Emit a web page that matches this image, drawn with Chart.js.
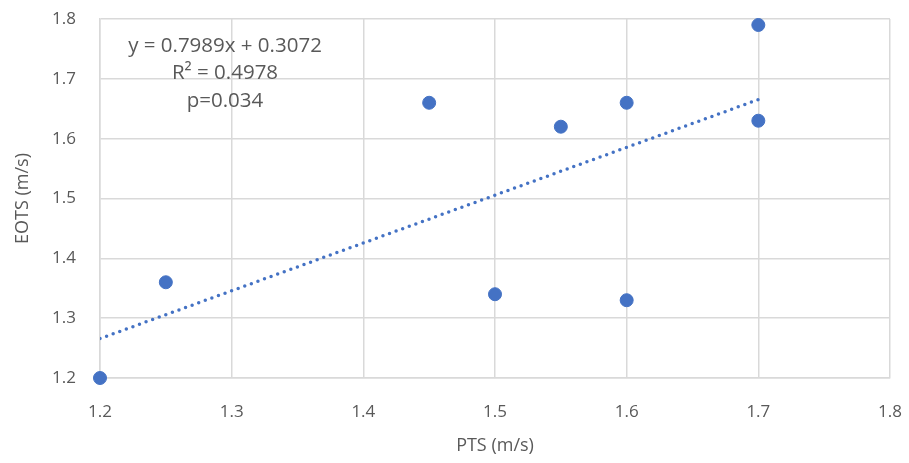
<!DOCTYPE html>
<html>
<head>
<meta charset="utf-8">
<script src="https://cdn.jsdelivr.net/npm/chart.js@4.4.1/dist/chart.umd.min.js"></script>
<style>
  html, body { margin: 0; padding: 0; background: #fff; }
  #wrap { width: 909px; height: 463px; }
</style>
</head>
<body>
<div id="wrap"><canvas id="scatterChart"></canvas></div>
<script>
// data
const ptsValues = [1.2, 1.25, 1.45, 1.5, 1.55, 1.6, 1.6, 1.7, 1.7];
const eotsValues = [1.2, 1.36, 1.66, 1.34, 1.62, 1.66, 1.33, 1.79, 1.63];
const trendX = [1.2, 1.7];
const slope = 0.7989;
const intercept = 0.3072;
const annotationLines = ['y = 0.7989x + 0.3072', 'R² = 0.4978', 'p=0.034'];

const scatterPoints = ptsValues.map((x, i) => ({ x: x, y: eotsValues[i] }));
const trendPoints = trendX.map(x => ({ x: x, y: slope * x + intercept }));

const textColor = '#595959';
const gridColor = '#d9d9d9';
const fontFamily = "'Open Sans', 'Liberation Sans', sans-serif";

// plugin untuk teks persamaan
const equationText = {
  id: 'equationText',
  afterDatasetsDraw(chart) {
    const ctx = chart.ctx;
    ctx.save();
    ctx.fillStyle = textColor;
    ctx.font = '20.5px ' + fontFamily;
    ctx.textAlign = 'center';
    ctx.textBaseline = 'middle';
    annotationLines.forEach((line, i) => {
      ctx.fillText(line, 225, 46 + i * 27.5);
    });
    ctx.restore();
  }
};

const ctx = document.getElementById('scatterChart');
new Chart(ctx, {
  type: 'scatter',
  data: {
    datasets: [{
      label: 'EOTS',
      data: scatterPoints,
      backgroundColor: '#4472C4',
      borderColor: '#4472C4',
      pointRadius: 6.5,
      pointHoverRadius: 6.5,
      clip: false
    }, {
      type: 'line',
      label: 'Trend',
      data: trendPoints,
      borderColor: '#4472C4',
      borderWidth: 3.5,
      borderDash: [0, 7],
      borderCapStyle: 'round',
      pointRadius: 0,
      fill: false
    }]
  },
  options: {
    responsive: true,
    maintainAspectRatio: false,
    animation: false,
    layout: {
      padding: { left: 12, right: 19, top: 19, bottom: 6 }
    },
    plugins: {
      legend: { display: false },
      tooltip: { enabled: false }
    },
    scales: {
      x: {
        type: 'linear',
        min: 1.2,
        max: 1.8,
        afterFit(scale) {
          scale.height = 79;
          scale.paddingRight = 0;
          scale.paddingLeft = 0;
        },
        ticks: {
          stepSize: 0.1,
          color: textColor,
          font: { size: 17, family: fontFamily },
          padding: 24,
          callback: v => v.toFixed(1)
        },
        grid: { color: gridColor, lineWidth: 1.5, drawTicks: false },
        border: { color: gridColor, width: 1.5 },
        title: {
          display: true,
          text: 'PTS (m/s)',
          color: textColor,
          font: { size: 18, family: fontFamily },
          padding: { top: 4, bottom: 0 }
        }
      },
      y: {
        type: 'linear',
        min: 1.2,
        max: 1.8,
        afterFit(scale) {
          scale.width = 88;
          scale.paddingTop = 0;
          scale.paddingBottom = 0;
        },
        ticks: {
          stepSize: 0.1,
          color: textColor,
          font: { size: 17, family: fontFamily },
          padding: 24,
          callback: v => v.toFixed(1)
        },
        grid: { color: gridColor, lineWidth: 1.5, drawTicks: false },
        border: { color: gridColor, width: 1.5 },
        title: {
          display: true,
          text: 'EOTS (m/s)',
          color: textColor,
          font: { size: 18, family: fontFamily },
          padding: { top: 0, bottom: 0 }
        }
      }
    }
  },
  plugins: [equationText]
});
</script>
</body>
</html>
